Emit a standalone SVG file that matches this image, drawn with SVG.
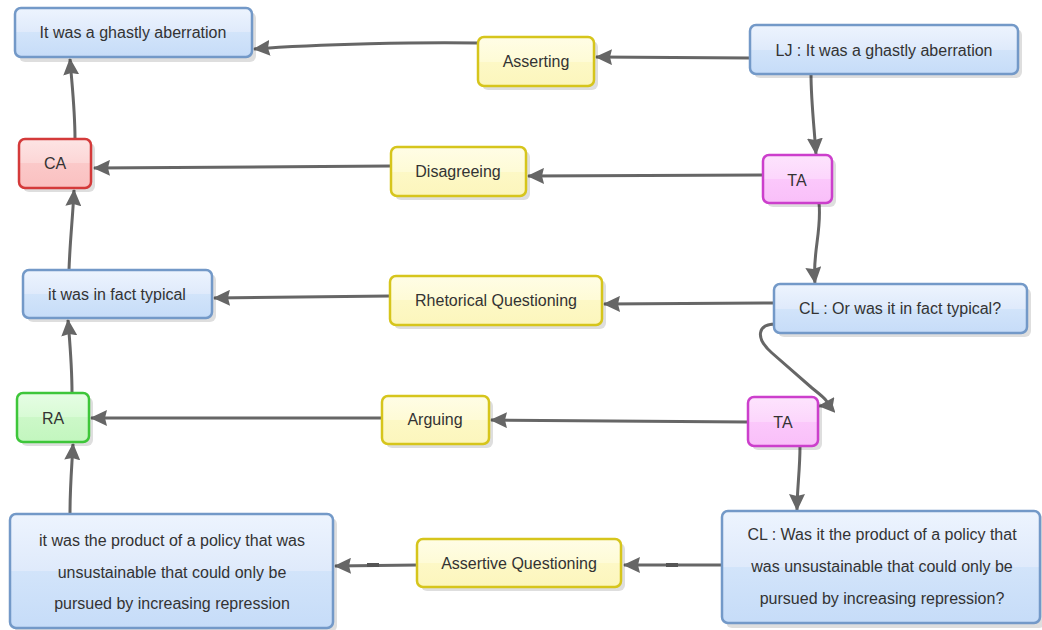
<svg xmlns="http://www.w3.org/2000/svg" width="1042" height="630" viewBox="0 0 1042 630">
<defs>
<linearGradient id="gBlue" x1="0" y1="0" x2="0" y2="1"><stop offset="0" stop-color="#edf4fe"/><stop offset="0.5" stop-color="#dfeafb"/><stop offset="0.5" stop-color="#d2e4fa"/><stop offset="1" stop-color="#c6dcf8"/></linearGradient>
<linearGradient id="gYel" x1="0" y1="0" x2="0" y2="1"><stop offset="0" stop-color="#fffde6"/><stop offset="0.5" stop-color="#fefbd6"/><stop offset="0.5" stop-color="#fdf8c6"/><stop offset="1" stop-color="#fcf6bc"/></linearGradient>
<linearGradient id="gRed" x1="0" y1="0" x2="0" y2="1"><stop offset="0" stop-color="#fde4e4"/><stop offset="0.5" stop-color="#fcd6d6"/><stop offset="0.5" stop-color="#fbc9c9"/><stop offset="1" stop-color="#fac0c0"/></linearGradient>
<linearGradient id="gGrn" x1="0" y1="0" x2="0" y2="1"><stop offset="0" stop-color="#e6fde4"/><stop offset="0.5" stop-color="#d8fbd5"/><stop offset="0.5" stop-color="#ccf8c8"/><stop offset="1" stop-color="#c2f6be"/></linearGradient>
<linearGradient id="gPnk" x1="0" y1="0" x2="0" y2="1"><stop offset="0" stop-color="#fde4fd"/><stop offset="0.5" stop-color="#fcd6fc"/><stop offset="0.5" stop-color="#fbc8fb"/><stop offset="1" stop-color="#f9bff9"/></linearGradient>
<marker id="arr" markerWidth="17" markerHeight="16" viewBox="0 0 17 16" refX="16" refY="8" orient="auto" markerUnits="userSpaceOnUse"><path d="M0,0 L17,8 L0,16 L2,8 Z" fill="#666"/></marker>
</defs>
<style>
.sh{fill:#000;opacity:0.13}
.blue{fill:url(#gBlue);stroke:#7399c8;stroke-width:2.5}
.yel{fill:url(#gYel);stroke:#d6c51c;stroke-width:2.5}
.red{fill:url(#gRed);stroke:#d43a3a;stroke-width:2.5}
.grn{fill:url(#gGrn);stroke:#3ec63a;stroke-width:2.5}
.pnk{fill:url(#gPnk);stroke:#cc3fcc;stroke-width:2.5}
text{font-family:"Liberation Sans",Arial,sans-serif;font-size:16px;fill:#333;text-anchor:middle;dominant-baseline:central}
.c{fill:none;stroke:#666;stroke-width:3;marker-end:url(#arr)}
.dash{fill:#555}
</style>
<g id="connectors">
<path class="c" d="M750,58 L596,57"/>
<path class="c" d="M478,43 C420,42 320,44 254,49"/>
<path class="c" d="M811,74 C811,100 814,125 816,154"/>
<path class="c" d="M763,175 L528,176"/>
<path class="c" d="M391,166 L94,168"/>
<path class="c" d="M75,139 C75,110 72,85 70,59"/>
<path class="c" d="M819,203 C822,230 812,255 815,283"/>
<path class="c" d="M774,303 L604,304"/>
<path class="c" d="M390,296 L214,298"/>
<path class="c" d="M69,270 C70,240 73,215 74,190"/>
<path class="c" d="M776,324 C757,324 755,338 772,353 L812,388 C826,399 834,405 819,406"/>
<path class="c" d="M748,422 L491,420"/>
<path class="c" d="M382,418 L91,418"/>
<path class="c" d="M72,393 C72,365 70,345 68,320"/>
<path class="c" d="M800,446 C800,470 797,490 797,510"/>
<path class="c" d="M722,565 L624,565"/>
<rect class="dash" x="666" y="563" width="12" height="4"/>
<path class="c" d="M418,565 L335,566"/>
<rect class="dash" x="367" y="563" width="12" height="4"/>
<path class="c" d="M70,514 C70,485 72,465 73,444"/>
</g>
<g id="n1"><rect class="sh" x="19" y="12" width="237" height="50" rx="6"/><rect class="blue" x="15" y="8" width="237" height="49" rx="6"/><text x="133" y="32">It was a ghastly aberration</text></g>
<g id="n2"><rect class="sh" x="482" y="41" width="116" height="49" rx="6"/><rect class="yel" x="478" y="37" width="116" height="49" rx="6"/><text x="536" y="61">Asserting</text></g>
<g id="n3"><rect class="sh" x="754" y="29" width="268" height="49" rx="6"/><rect class="blue" x="750" y="25" width="268" height="49" rx="6"/><text x="884" y="50">LJ : It was a ghastly aberration</text></g>
<g id="n4"><rect class="sh" x="23" y="143" width="72" height="49" rx="6"/><rect class="red" x="19" y="139" width="72" height="49" rx="6"/><text x="55" y="163">CA</text></g>
<g id="n5"><rect class="sh" x="395" y="151" width="135" height="49" rx="6"/><rect class="yel" x="391" y="147" width="135" height="49" rx="6"/><text x="458" y="171">Disagreeing</text></g>
<g id="n6"><rect class="sh" x="767" y="159" width="69" height="48" rx="6"/><rect class="pnk" x="763" y="155" width="69" height="48" rx="6"/><text x="797" y="180">TA</text></g>
<g id="n7"><rect class="sh" x="27" y="274" width="189" height="48" rx="6"/><rect class="blue" x="23" y="270" width="189" height="48" rx="6"/><text x="117" y="294">it was in fact typical</text></g>
<g id="n8"><rect class="sh" x="394" y="280" width="212" height="49" rx="6"/><rect class="yel" x="390" y="276" width="212" height="49" rx="6"/><text x="496" y="300">Rhetorical Questioning</text></g>
<g id="n9"><rect class="sh" x="778" y="288" width="253" height="49" rx="6"/><rect class="blue" x="774" y="284" width="253" height="49" rx="6"/><text x="900" y="308">CL : Or was it in fact typical?</text></g>
<g id="n10"><rect class="sh" x="21" y="397" width="72" height="49" rx="6"/><rect class="grn" x="17" y="393" width="72" height="49" rx="6"/><text x="53" y="418">RA</text></g>
<g id="n11"><rect class="sh" x="386" y="400" width="107" height="48" rx="6"/><rect class="yel" x="382" y="396" width="107" height="48" rx="6"/><text x="435" y="419">Arguing</text></g>
<g id="n12"><rect class="sh" x="752" y="401" width="70" height="49" rx="6"/><rect class="pnk" x="748" y="397" width="70" height="49" rx="6"/><text x="783" y="422">TA</text></g>
<g id="n13"><rect class="sh" x="14" y="518" width="323" height="114" rx="6"/><rect class="blue" x="10" y="514" width="323" height="114" rx="6"/><text x="172" y="540">it was the product of a policy that was</text><text x="172" y="572">unsustainable that could only be</text><text x="172" y="603">pursued by increasing repression</text></g>
<g id="n14"><rect class="sh" x="421" y="543" width="204" height="48" rx="6"/><rect class="yel" x="417" y="539" width="204" height="48" rx="6"/><text x="519" y="563">Assertive Questioning</text></g>
<g id="n15"><rect class="sh" x="726" y="515" width="319" height="113" rx="6"/><rect class="blue" x="722" y="511" width="318" height="112" rx="6"/><text x="882" y="534">CL : Was it the product of a policy that</text><text x="882" y="566">was unsustainable that could only be</text><text x="882" y="598">pursued by increasing repression?</text></g>
</svg>
